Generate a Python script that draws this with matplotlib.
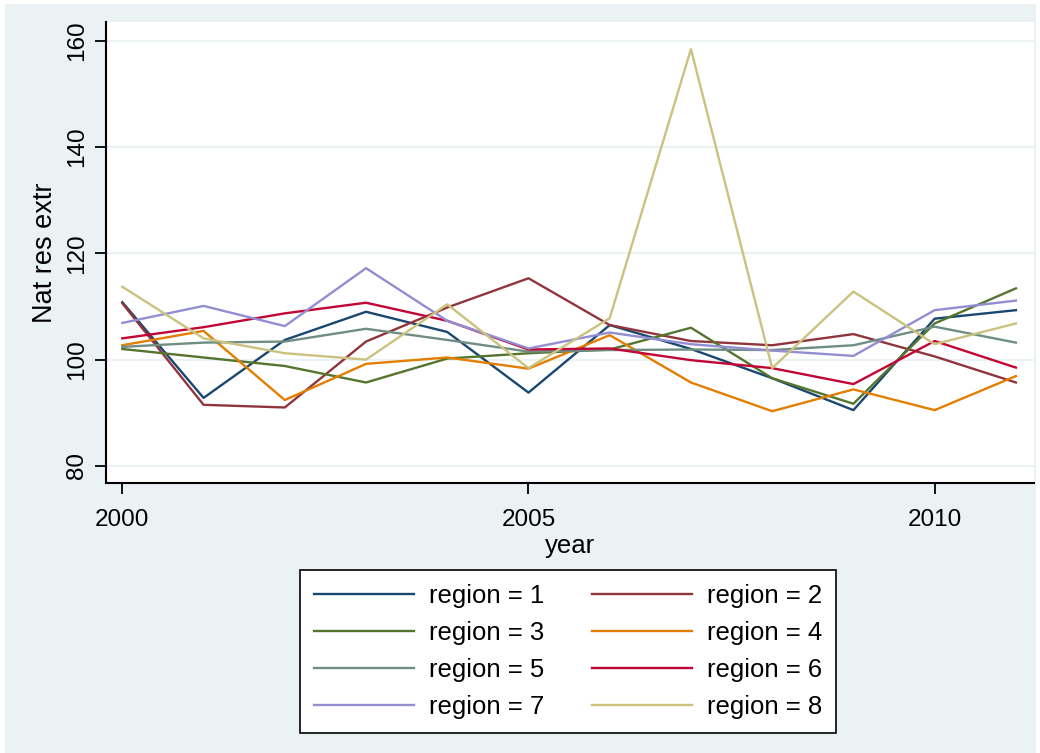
import matplotlib
matplotlib.use("Agg")
import matplotlib.pyplot as plt
from matplotlib.patches import Rectangle
import numpy as np

years = np.arange(2000, 2012)

region1 = [110.8, 92.8, 103.7, 109.0, 105.2, 93.8, 106.5, 102.0, 96.5, 90.5, 107.7, 109.3]
region2 = [110.6, 91.5, 91.0, 103.4, 109.8, 115.3, 106.5, 103.5, 102.7, 104.8, 100.6, 95.7]
region3 = [102.0, 100.4, 98.8, 95.7, 100.2, 101.2, 101.9, 106.0, 96.5, 91.7, 106.8, 113.4]
region4 = [102.7, 105.4, 92.4, 99.2, 100.4, 98.3, 104.6, 95.7, 90.3, 94.4, 90.5, 96.9]
region5 = [102.4, 103.2, 103.4, 105.8, 103.7, 101.5, 101.8, 101.9, 101.8, 102.7, 106.2, 103.2]
region6 = [104.0, 106.1, 108.7, 110.7, 107.3, 101.9, 102.1, 99.9, 98.4, 95.4, 103.5, 98.5]
region7 = [106.9, 110.1, 106.3, 117.2, 107.3, 102.1, 105.1, 102.9, 101.7, 100.7, 109.3, 111.1]
region8 = [113.7, 104.0, 101.2, 100.0, 110.4, 98.4, 107.8, 158.4, 98.4, 112.8, 102.9, 106.8]

series = [region1, region2, region3, region4, region5, region6, region7, region8]
labels = ["region = %d" % i for i in range(1, 9)]

# stata s2color palette
colors = ["#1a476f", "#90353b", "#55752f", "#e37e00",
          "#6e8e84", "#c10534", "#938dd2", "#cac27e"]

plt.rcParams['font.family'] = ['Liberation Sans', 'DejaVu Sans']

fig = plt.figure(figsize=(10.4, 7.53), dpi=100)
fig.patch.set_facecolor("white")
# graph region background, inset a few pixels from the edge
fig.patches.append(Rectangle((5 / 1040, 0), 1031 / 1040, 749 / 753,
                             transform=fig.transFigure, facecolor="#eaf2f3",
                             edgecolor="none", zorder=-10))

ax = fig.add_axes([0.102, 0.3586, 0.892, 0.6122])
ax.set_facecolor("white")

handles = []
for vals, lab, col in zip(series, labels, colors):
    h, = ax.plot(years, vals, color=col, lw=1.7, label=lab)
    handles.append(h)

ax.set_xlim(1999.80, 2011.22)
ax.set_ylim(76.8, 163.5)
ax.set_xticks([2000, 2005, 2010])
ax.set_yticks([80, 100, 120, 140, 160])
ax.set_yticklabels(["80", "100", "120", "140", "160"], rotation=90, va="center")
ax.grid(axis="y", color="#eaf2f3", lw=1.5)
ax.set_axisbelow(True)

for s in ["top", "right"]:
    ax.spines[s].set_visible(False)
ax.spines["left"].set_linewidth(1.5)
ax.spines["bottom"].set_linewidth(1.5)
ax.tick_params(direction="out", length=8, width=1.3, labelsize=17.5, pad=5)
ax.tick_params(axis="x", pad=11)

ax.set_ylabel("Nat res extr", fontsize=19.5, labelpad=6)
ax.set_xlabel("year", fontsize=18.5, labelpad=2)

# legend rows read left to right: 1 2 / 3 4 / 5 6 / 7 8
order = [0, 2, 4, 6, 1, 3, 5, 7]
leg = ax.legend([handles[i] for i in order], [labels[i] for i in order],
                ncol=2, loc="center", bbox_to_anchor=(0.546, 0.1350),
                bbox_transform=fig.transFigure, fontsize=18.5,
                handlelength=3.9, handletextpad=0.58, columnspacing=1.85,
                labelspacing=0.5, fancybox=False, borderpad=0.55,
                framealpha=1)
leg.get_frame().set_edgecolor("black")
leg.get_frame().set_linewidth(1.2)

plt.savefig("out.png", dpi=100)
